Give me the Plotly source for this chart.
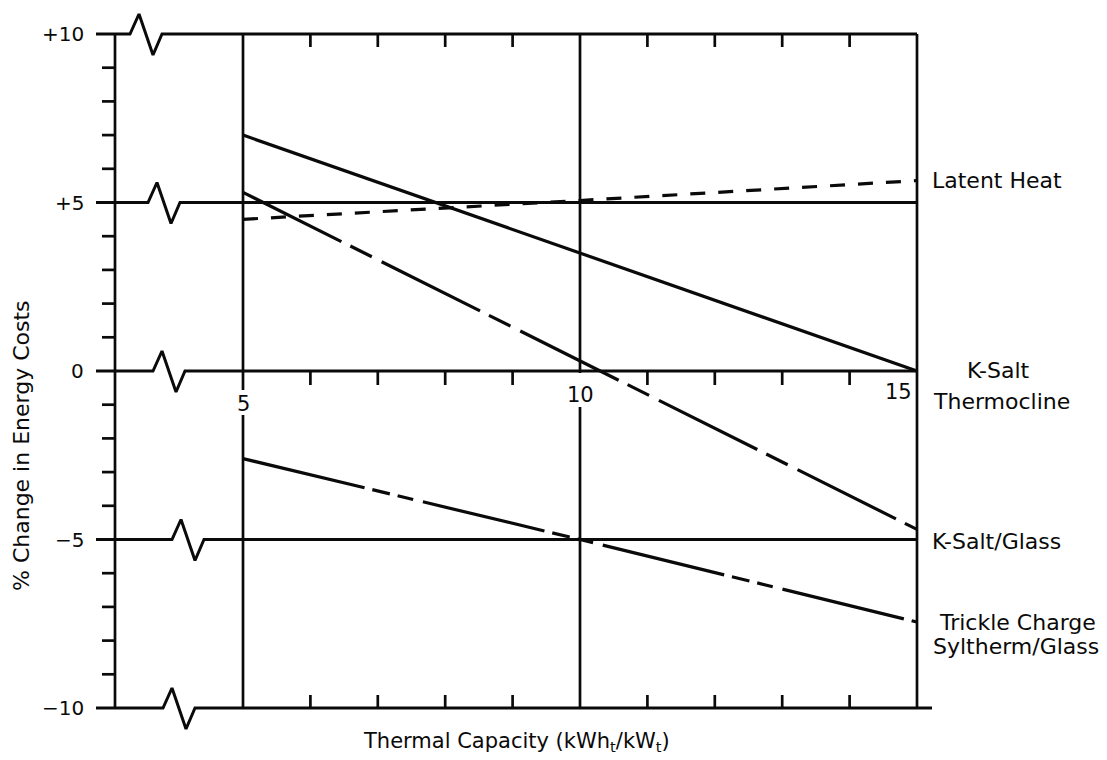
import plotly.graph_objects as go

# ---------------- data ----------------
capacity = [5, 10, 15]                      # kWh_t / kW_t
ksalt_thermocline = [7.0, 3.5, 0.0]         # % change
latent_capacity = [5, 7.5, 10, 15]
latent_heat = [4.5, 4.78, 5.06, 5.65]
ksalt_glass = [5.3, 0.3, -4.7]
trickle_syltherm = [-2.6, -5.0, -7.45]

y_major = [10, 5, 0, -5, -10]
y_major_labels = ["+10", "+5", "0", "\u22125", "\u221210"]
x_major = [5, 10, 15]
x_major_labels = ["5", "10", "15"]
x_minor = [6, 7, 8, 9, 11, 12, 13, 14]
y_minor = [v for v in range(-9, 10) if v % 5 != 0]

x_title = "Thermal Capacity (kWh<sub>t</sub>/kW<sub>t</sub>)"
y_title = "% Change in Energy Costs"

# ---------------- layout helpers (pixel -> data) ----------------
W, H = 1107, 760
PX5, SX = 243.0, 67.4      # pixel of x=5, pixels per x unit
PY0, SY = 371.0, 33.7      # pixel of y=0, pixels per y unit


def X(px):
    return 5 + (px - PX5) / SX


def Y(py):
    return (PY0 - py) / SY


def DY(p):
    return p / SY


FONT = "DejaVu Sans"
BLACK = "#0a0a0a"
fig = go.Figure()

# horizontal reference lines with axis-break zigzags
zig_start = {10: 130, 5: 148, 0: 153, -5: 172, -10: 163}
for v in y_major:
    s = zig_start[v]
    xr = 15 if v != -10 else X(932)
    fig.add_trace(go.Scatter(
        x=[X(96), X(s), X(s + 9), X(s + 23), X(s + 32), xr],
        y=[v, v, v + DY(20), v - DY(21), v, v],
        mode="lines", line=dict(color=BLACK, width=3),
        hoverinfo="skip", showlegend=False))

shapes = []
LW = 2.7
# left axis
shapes.append(dict(type="line", x0=X(115), x1=X(115), y0=10, y1=-10,
                   line=dict(color=BLACK, width=LW)))
for v in y_minor:
    shapes.append(dict(type="line", x0=X(102), x1=X(115), y0=v, y1=v,
                       line=dict(color=BLACK, width=LW)))
# vertical grid lines (with gaps for the labels)
gaps = {5: (Y(390), Y(415)), 10: (Y(373), Y(407))}
for xv in x_major:
    if xv in gaps:
        g0, g1 = gaps[xv]
        shapes.append(dict(type="line", x0=xv, x1=xv, y0=10, y1=g0,
                           line=dict(color=BLACK, width=LW)))
        shapes.append(dict(type="line", x0=xv, x1=xv, y0=g1, y1=-10,
                           line=dict(color=BLACK, width=LW)))
    else:
        shapes.append(dict(type="line", x0=xv, x1=xv, y0=10, y1=-10,
                           line=dict(color=BLACK, width=LW)))
# minor ticks on top, zero line and bottom
for xv in x_minor:
    shapes.append(dict(type="line", x0=xv, x1=xv, y0=10, y1=10 - DY(13),
                       line=dict(color=BLACK, width=LW)))
    shapes.append(dict(type="line", x0=xv, x1=xv, y0=0, y1=-DY(14),
                       line=dict(color=BLACK, width=LW)))
    shapes.append(dict(type="line", x0=xv, x1=xv, y0=-10, y1=-10 + DY(13),
                       line=dict(color=BLACK, width=LW)))

# ---------------- data series ----------------
fig.add_trace(go.Scatter(x=capacity, y=ksalt_thermocline, mode="lines",
                         line=dict(color=BLACK, width=3.2),
                         name="K-Salt Thermocline", showlegend=False))
fig.add_trace(go.Scatter(x=latent_capacity, y=latent_heat, mode="lines",
                         line=dict(color=BLACK, width=3.2, dash="15px,13px"),
                         name="Latent Heat", showlegend=False))
fig.add_trace(go.Scatter(x=capacity, y=ksalt_glass, mode="lines",
                         line=dict(color=BLACK, width=3.2,
                                   dash="110px,10px,24px,11px"),
                         name="K-Salt/Glass", showlegend=False))
fig.add_trace(go.Scatter(x=capacity, y=trickle_syltherm, mode="lines",
                         line=dict(color=BLACK, width=3.2,
                                   dash="125px,8px,18px,8px,16px,10px"),
                         name="Trickle Charge Syltherm/Glass",
                         showlegend=False))

# ---------------- text ----------------
ann = []


def txt(text, x, y, size=20, xa="center", ya="middle", angle=0):
    ann.append(dict(text=text, x=x, y=y, xref="x", yref="y",
                    xanchor=xa, yanchor=ya, showarrow=False,
                    textangle=angle,
                    font=dict(family=FONT, size=size, color=BLACK)))


for v, lab in zip(y_major, y_major_labels):
    txt(lab, X(86), v, size=20, xa="right")
txt(x_major_labels[0], x_major[0], Y(404), size=21)
txt(x_major_labels[1], x_major[1], Y(395), size=21)
txt(x_major_labels[2], X(914), Y(392), size=21, xa="right")

txt("Latent Heat", X(930), Y(180), size=22, xa="left")
txt("K-Salt", X(998), Y(370), size=22)
txt("Thermocline", X(1001), Y(401), size=22)
txt("K-Salt/Glass", X(930), Y(541), size=22, xa="left")
txt("Trickle Charge", X(1017), Y(622), size=22)
txt("Syltherm/Glass", X(1016), Y(646), size=22)

txt(y_title, X(21), Y(446), size=22, angle=-90)
txt(x_title, X(516), Y(742), size=21)

fig.update_layout(
    width=W, height=H, margin=dict(l=0, r=0, t=0, b=0),
    paper_bgcolor="white", plot_bgcolor="white",
    xaxis=dict(range=[X(0), X(W)], visible=False, fixedrange=True),
    yaxis=dict(range=[Y(H), Y(0)], visible=False, fixedrange=True),
    shapes=shapes, annotations=ann, showlegend=False,
)

fig.write_html("out.html",
               config={"displayModeBar": False},
               post_script="document.body.style.margin='0px';"
                           "document.body.style.overflow='hidden';")
